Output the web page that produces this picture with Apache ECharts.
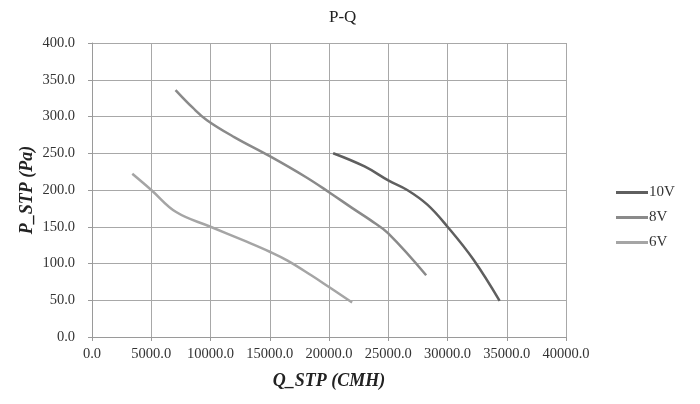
<!DOCTYPE html>
<html><head><meta charset="utf-8">
<script src="https://cdn.jsdelivr.net/npm/echarts@6/dist/echarts.min.js"></script>
<style>html,body{margin:0;padding:0;background:#fff}#c{width:700px;height:404px}</style>
</head><body><div id="c"></div>
<script>
const seriesNames = ['10V', '8V', '6V'];
const q10 = [20350, 23000, 25000, 26600, 28300, 30000, 32200, 34400];
const p10 = [250, 232, 213, 200, 180, 150, 105, 49];
const q8 = [7050, 8500, 9700, 12000, 15000, 18000, 20000, 22000, 23500, 25000, 28200];
const p8 = [336, 312, 295, 272, 246, 218, 197, 175, 159, 141, 84];
const q6 = [3400, 5000, 7100, 10000, 13000, 15000, 16500, 18500, 20000, 21950];
const p6 = [222, 200, 170, 150, 130, 116, 104, 84, 68, 47];
const colors = ['#5f5f5f', '#8a8a8a', '#a5a5a5'];
const xTicks = {min: 0, max: 40000, interval: 5000};
const yTicks = {min: 0, max: 400, interval: 50};

const zip = (a, b) => a.map((v, i) => [v, b[i]]);
const dataSets = [zip(q10, p10), zip(q8, p8), zip(q6, p6)];
const font = 'Liberation Serif';
const chart = echarts.init(document.getElementById('c'));
chart.setOption({
  animation: false,
  backgroundColor: '#fff',
  title: {text: 'P-Q', left: 324, top: 4, textStyle: {fontFamily: font, fontSize: 17, fontWeight: 'normal', color: '#222'}},
  grid: {left: 92, right: 134, top: 43, bottom: 67},
  legend: {
    orient: 'vertical', left: 611, top: 180, itemGap: 10,
    itemWidth: 32, itemHeight: 3, icon: 'rect',
    textStyle: {fontFamily: font, fontSize: 15, color: '#333', padding: [0, 0, 0, -4]},
    data: seriesNames
  },
  xAxis: {
    type: 'value', min: xTicks.min, max: xTicks.max, interval: xTicks.interval,
    name: 'Q_STP (CMH)', nameLocation: 'middle', nameGap: 35, nameMoveOverlap: false,
    nameTextStyle: {fontFamily: font, fontSize: 18, fontWeight: 'bold', fontStyle: 'italic', color: '#222'},
    axisLine: {show: true, lineStyle: {color: '#9a9a9a'}},
    axisTick: {show: true, length: 4, lineStyle: {color: '#9a9a9a'}},
    axisLabel: {fontFamily: font, fontSize: 14.5, color: '#333', margin: 10, formatter: v => v.toFixed(1)},
    splitLine: {show: true, lineStyle: {color: '#a8a8a8', width: 1}}
  },
  yAxis: {
    type: 'value', min: yTicks.min, max: yTicks.max, interval: yTicks.interval,
    name: 'P_STP (Pa)', nameLocation: 'middle', nameGap: 56, nameMoveOverlap: false,
    nameTextStyle: {fontFamily: font, fontSize: 18, fontWeight: 'bold', fontStyle: 'italic', color: '#222'},
    axisLine: {show: true, lineStyle: {color: '#9a9a9a'}},
    axisTick: {show: true, length: 4, lineStyle: {color: '#9a9a9a'}},
    axisLabel: {fontFamily: font, fontSize: 14.5, color: '#333', margin: 17, formatter: v => v.toFixed(1)},
    splitLine: {show: true, lineStyle: {color: '#a8a8a8', width: 1}}
  },
  series: seriesNames.map((n, i) => ({
    name: n, type: 'line', smooth: 0.4, showSymbol: false, symbol: 'none',
    data: dataSets[i],
    lineStyle: {color: colors[i], width: 2.5},
    itemStyle: {color: colors[i]}
  }))
});
</script></body></html>
